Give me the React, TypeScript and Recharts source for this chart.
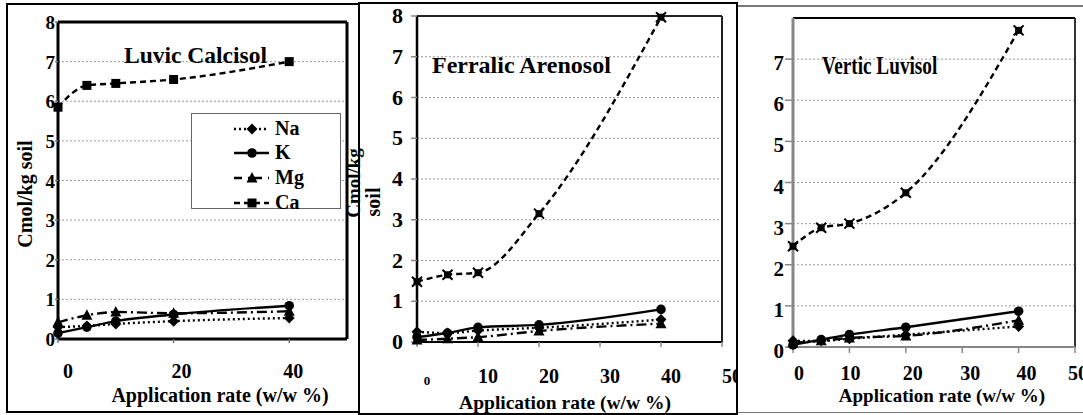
import React from 'react';
import { LineChart, Line, XAxis, YAxis, CartesianGrid, ReferenceLine } from 'recharts';

// ---- data ----
const rates = [0, 5, 10, 20, 40];

const naLuvic = [0.3, 0.33, 0.38, 0.45, 0.53];
const kLuvic = [0.15, 0.3, 0.45, 0.62, 0.84];
const mgLuvic = [0.42, 0.6, 0.68, 0.65, 0.7];
const caLuvic = [5.85, 6.4, 6.45, 6.55, 7.0];

const naFerralic = [0.25, 0.22, 0.28, 0.35, 0.55];
const kFerralic = [0.12, 0.22, 0.36, 0.42, 0.8];
const mgFerralic = [0.05, 0.08, 0.12, 0.27, 0.45];
const caFerralic = [1.48, 1.65, 1.7, 3.15, 7.97];

const naVertic = [0.15, 0.15, 0.2, 0.3, 0.5];
const kVertic = [0.05, 0.18, 0.3, 0.48, 0.87];
const mgVertic = [0.1, 0.15, 0.22, 0.27, 0.65];
const caVertic = [2.45, 2.9, 3.0, 3.75, 7.7];

const seriesNames = ['Na', 'K', 'Mg', 'Ca'];
const xTicksLuvic = [0, 20, 40];
const xTicksFull = [0, 10, 20, 30, 40, 50];
const yTicks8 = [0, 1, 2, 3, 4, 5, 6, 7, 8];
const yTicks7 = [0, 1, 2, 3, 4, 5, 6, 7];
const titles = ['Luvic Calcisol', 'Ferralic Arenosol', 'Vertic Luvisol'];
const xTitle = 'Application rate (w/w %)';
const yTitle = 'Cmol/kg soil';
const yTitleA = 'Cmol/kg';
const yTitleB = 'soil';

// ---- styles ----
const FONT = "'Liberation Serif', 'Times New Roman', Times, serif";

type Kind = 'diamond' | 'circle' | 'triangle' | 'square' | 'cross';

function drawMarker(kind: Kind, cx: number, cy: number, key?: any) {
  switch (kind) {
    case 'diamond':
      return <path key={key} d={`M${cx},${cy - 5.5}L${cx + 5.5},${cy}L${cx},${cy + 5.5}L${cx - 5.5},${cy}Z`} fill="#000" />;
    case 'circle':
      return <circle key={key} cx={cx} cy={cy} r={4.8} fill="#000" />;
    case 'triangle':
      return <path key={key} d={`M${cx},${cy - 6}L${cx + 5.5},${cy + 4.5}L${cx - 5.5},${cy + 4.5}Z`} fill="#000" />;
    case 'square':
      return <rect key={key} x={cx - 4.5} y={cy - 4.5} width={9} height={9} fill="#000" />;
    case 'cross':
    default:
      return (
        <g key={key}>
          <rect x={cx - 3.5} y={cy - 3.5} width={7} height={7} fill="#000" />
          <path d={`M${cx - 5},${cy - 5}L${cx + 5},${cy + 5}M${cx + 5},${cy - 5}L${cx - 5},${cy + 5}`} stroke="#000" strokeWidth={2} />
        </g>
      );
  }
}

const lineStyle: Record<string, { dash?: string; width: number }> = {
  Na: { dash: '2 3', width: 2.4 },
  K: { dash: undefined, width: 2.4 },
  Mg: { dash: '10 4 2 4', width: 2.4 },
  Ca: { dash: '6 4', width: 2.4 },
};

interface PanelCfg {
  left: number;
  width: number;
  margin: { top: number; right: number; left: number; bottom: number };
  yw: number;
  xh: number;
  na: number[];
  k: number[];
  mg: number[];
  ca: number[];
  caKind: Kind;
  xTicks: number[];
  yTicks: number[];
  xTickSize: number;
  xLabelDy: number;
  xLabelDx: number[];
  xFont: number;
  yTickSize: number;
  yTickMargin: number;
  yFont: number;
  yDy: number;
  leftAxis: { stroke: string; w: number };
  bottomAxis: { stroke: string; w: number };
  topLine: { stroke: string; w: number };
  rightLine: { stroke: string; w: number };
  tickColor: string;
  smallZero?: boolean;
}

function Panel({ cfg }: { cfg: PanelCfg }) {
  const data = rates.map((x, i) => ({ x, Na: cfg.na[i], K: cfg.k[i], Mg: cfg.mg[i], Ca: cfg.ca[i] }));
  const kinds: Record<string, Kind> = { Na: 'diamond', K: 'circle', Mg: 'triangle', Ca: cfg.caKind };

  const renderXTick = (p: any) => {
    const idx = cfg.xTicks.indexOf(p.payload.value);
    const dx = cfg.xLabelDx[idx] ?? 0;
    const small = cfg.smallZero && p.payload.value === 0;
    return (
      <text
        x={p.x + dx}
        y={p.y + cfg.xLabelDy + (small ? 2 : 0)}
        textAnchor="middle"
        style={{ fontFamily: FONT, fontWeight: 700, fontSize: small ? 13 : cfg.xFont }}
        fill="#000"
      >
        {p.payload.value}
      </text>
    );
  };

  const renderYTick = (p: any) => (
    <text
      x={p.x}
      y={p.y + cfg.yDy}
      textAnchor="end"
      style={{ fontFamily: FONT, fontWeight: 700, fontSize: cfg.yFont }}
      fill="#000"
    >
      {p.payload.value}
    </text>
  );

  return (
    <div style={{ position: 'absolute', left: cfg.left, top: 0 }}>
      <LineChart width={cfg.width} height={415} data={data} margin={cfg.margin}>
        <CartesianGrid vertical={false} stroke="#9a9a9a" strokeDasharray="2 2" strokeWidth={1} />
        <XAxis
          type="number"
          dataKey="x"
          domain={[0, 50]}
          ticks={cfg.xTicks}
          interval={0}
          height={cfg.xh}
          axisLine={{ stroke: cfg.bottomAxis.stroke, strokeWidth: cfg.bottomAxis.w }}
          tickLine={{ stroke: cfg.tickColor, strokeWidth: 1.5 }}
          tickSize={cfg.xTickSize}
          tickMargin={0}
          tick={renderXTick}
        />
        <YAxis
          type="number"
          domain={[0, 8]}
          ticks={cfg.yTicks}
          interval={0}
          width={cfg.yw}
          axisLine={{ stroke: cfg.leftAxis.stroke, strokeWidth: cfg.leftAxis.w }}
          tickLine={{ stroke: cfg.tickColor, strokeWidth: 1.5 }}
          tickSize={cfg.yTickSize}
          tickMargin={cfg.yTickMargin}
          tick={renderYTick}
        />
        <ReferenceLine y={8} stroke={cfg.topLine.stroke} strokeWidth={cfg.topLine.w} />
        <ReferenceLine x={50} stroke={cfg.rightLine.stroke} strokeWidth={cfg.rightLine.w} />
        {seriesNames.map((s) => (
          <Line
            key={s}
            dataKey={s}
            name={s}
            type="monotone"
            stroke="#000"
            strokeWidth={lineStyle[s].width}
            strokeDasharray={lineStyle[s].dash}
            dot={(p: any) => drawMarker(kinds[s], p.cx, p.cy, `${s}-${p.index}`)}
            activeDot={false}
            isAnimationActive={false}
          />
        ))}
      </LineChart>
    </div>
  );
}

const panels: PanelCfg[] = [
  {
    left: 0,
    width: 358,
    margin: { top: 22, right: 11, left: 0, bottom: 0 },
    yw: 58,
    xh: 76,
    na: naLuvic,
    k: kLuvic,
    mg: mgLuvic,
    ca: caLuvic,
    caKind: 'square',
    xTicks: xTicksLuvic,
    yTicks: yTicks8,
    xTickSize: 4,
    xLabelDy: 35,
    xLabelDx: [10, 8, 4],
    xFont: 20,
    yTickSize: 3,
    yTickMargin: 0,
    yFont: 19,
    yDy: 7,
    leftAxis: { stroke: '#000', w: 3 },
    bottomAxis: { stroke: '#000', w: 3 },
    topLine: { stroke: '#000', w: 3 },
    rightLine: { stroke: '#000', w: 3 },
    tickColor: '#777',
  },
  {
    left: 359,
    width: 378,
    margin: { top: 16, right: 15, left: 0, bottom: 0 },
    yw: 58,
    xh: 73,
    na: naFerralic,
    k: kFerralic,
    mg: mgFerralic,
    ca: caFerralic,
    caKind: 'cross',
    xTicks: xTicksFull,
    yTicks: yTicks8,
    xTickSize: 5,
    xLabelDy: 36,
    xLabelDx: [10, 10, 10, 10, 10, 10],
    xFont: 20,
    yTickSize: 6,
    yTickMargin: 8,
    yFont: 22,
    yDy: 7,
    leftAxis: { stroke: '#000', w: 2.5 },
    bottomAxis: { stroke: '#000', w: 2 },
    topLine: { stroke: '#222', w: 2 },
    rightLine: { stroke: '#222', w: 2 },
    tickColor: '#888',
    smallZero: true,
  },
  {
    left: 737,
    width: 346,
    margin: { top: 18, right: 8, left: 0, bottom: 0 },
    yw: 56,
    xh: 68,
    na: naVertic,
    k: kVertic,
    mg: mgVertic,
    ca: caVertic,
    caKind: 'cross',
    xTicks: xTicksFull,
    yTicks: yTicks7,
    xTickSize: 6,
    xLabelDy: 27,
    xLabelDx: [6, 1, 7, 8, 8, 3],
    xFont: 20,
    yTickSize: 8,
    yTickMargin: 1,
    yFont: 21,
    yDy: 11,
    leftAxis: { stroke: '#888', w: 3 },
    bottomAxis: { stroke: '#888', w: 2 },
    topLine: { stroke: '#000', w: 2 },
    rightLine: { stroke: '#333', w: 2 },
    tickColor: '#888',
  },
];

const textBase: React.CSSProperties = {
  position: 'absolute',
  fontFamily: FONT,
  fontWeight: 700,
  color: '#000',
  whiteSpace: 'nowrap',
  lineHeight: 1,
};

function Legend() {
  const rowsY = [15, 39, 64, 89];
  return (
    <div
      style={{
        position: 'absolute',
        left: 191,
        top: 113,
        width: 150,
        height: 96,
        boxSizing: 'border-box',
        border: '1.5px solid #666',
        background: '#fff',
      }}
    >
      <svg width={148} height={100} style={{ position: 'absolute', left: 0, top: 0, overflow: 'visible' }}>
        {seriesNames.map((s, i) => {
          const kind: Kind = s === 'Na' ? 'diamond' : s === 'K' ? 'circle' : s === 'Mg' ? 'triangle' : 'square';
          return (
            <g key={s}>
              <line
                x1={42}
                x2={77}
                y1={rowsY[i]}
                y2={rowsY[i]}
                stroke="#000"
                strokeWidth={lineStyle[s].width}
                strokeDasharray={s === 'Mg' ? '8 6 2 4' : lineStyle[s].dash}
              />
              {drawMarker(kind, 60, rowsY[i])}
              <text x={83} y={rowsY[i] + 6} style={{ fontFamily: FONT, fontWeight: 700, fontSize: 20 }} fill="#000">
                {s}
              </text>
            </g>
          );
        })}
      </svg>
    </div>
  );
}

export default function App() {
  return (
    <div
      style={{
        position: 'absolute',
        left: 0,
        top: 0,
        width: 1083,
        height: 415,
        background: '#fff',
        overflow: 'hidden',
      }}
    >
      {panels.map((p, i) => (
        <Panel key={i} cfg={p} />
      ))}

      {/* outer frames */}
      <div style={{ position: 'absolute', left: 6, top: 3, width: 354, height: 410, boxSizing: 'border-box', border: '2px solid #000' }} />
      <div style={{ position: 'absolute', left: 358, top: 2, width: 380, height: 413, boxSizing: 'border-box', border: '2px solid #000' }} />
      <div style={{ position: 'absolute', left: 738, top: 5, width: 345, height: 1.5, background: '#777' }} />
      <div style={{ position: 'absolute', left: 738, top: 411.5, width: 345, height: 1.5, background: '#777' }} />

      {/* titles */}
      <div style={{ ...textBase, left: 124, top: 44, fontSize: 23.5 }}>{titles[0]}</div>
      <div style={{ ...textBase, left: 432, top: 53, fontSize: 24 }}>{titles[1]}</div>
      <div style={{ ...textBase, left: 822, top: 53, fontSize: 25, transform: 'scaleX(0.77)', transformOrigin: 'left center' }}>
        {titles[2]}
      </div>

      {/* x-axis titles */}
      <div style={{ ...textBase, left: 220, top: 385, fontSize: 20, transform: 'translateX(-50%)' }}>{xTitle}</div>
      <div style={{ ...textBase, left: 565, top: 393, fontSize: 19.5, transform: 'translateX(-50%)' }}>{xTitle}</div>
      <div style={{ ...textBase, left: 942, top: 386, fontSize: 19, transform: 'translateX(-50%)' }}>{xTitle}</div>

      {/* y-axis titles */}
      <div style={{ ...textBase, left: 25, top: 194, fontSize: 20, transform: 'translate(-50%, -50%) rotate(-90deg)' }}>{yTitle}</div>
      <div style={{ ...textBase, left: 353, top: 183, fontSize: 19, transform: 'translate(-50%, -50%) rotate(-90deg)' }}>{yTitleA}</div>
      <div style={{ ...textBase, left: 373, top: 202, fontSize: 20, transform: 'translate(-50%, -50%) rotate(-90deg)' }}>{yTitleB}</div>

      <Legend />
    </div>
  );
}
